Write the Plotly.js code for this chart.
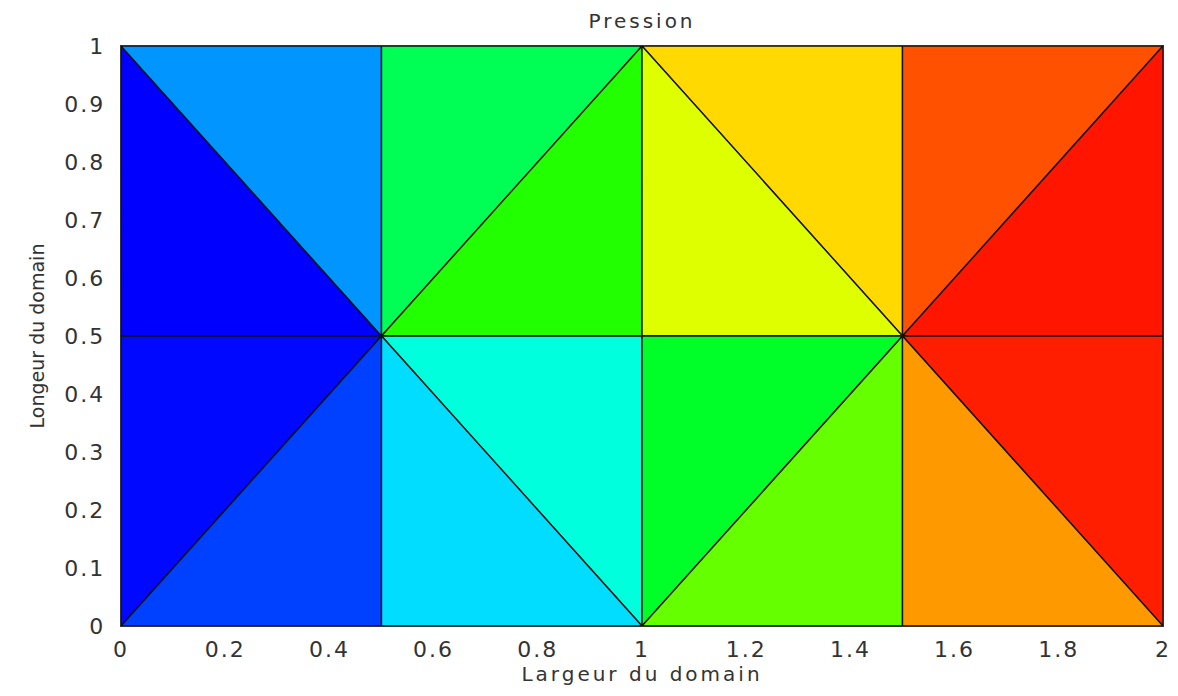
<!DOCTYPE html>
<html>
<head>
<meta charset="utf-8">
<script src="https://cdn.plot.ly/plotly-3.0.1.min.js"></script>
<style>
  html, body { margin: 0; padding: 0; background: #fff; }
  #chart { width: 1178px; height: 696px; }
  .xtick text, .ytick text { letter-spacing: 2px; }
  .gtitle, .xtitle { letter-spacing: 3px; }
</style>
</head>
<body>
<div id="chart"></div>
<script>
// Mesh nodes (x = largeur, y = longueur)
const nodeX = [0, 0.5, 1, 1.5, 2, 0, 0.5, 1, 1.5, 2, 0, 0.5, 1, 1.5, 2];
const nodeY = [0, 0, 0, 0, 0, 0.5, 0.5, 0.5, 0.5, 0.5, 1, 1, 1, 1, 1];
// Triangle connectivity (node indices)
const triA = [5, 10, 0, 0, 6, 6, 6, 6, 12, 12, 2, 2, 8, 8, 8, 8];
const triB = [10, 11, 5, 1, 11, 7, 7, 1, 13, 7, 7, 3, 13, 14, 9, 3];
const triC = [6, 6, 6, 6, 12, 12, 2, 2, 8, 8, 8, 8, 14, 9, 4, 4];
// Pression per element (normalised 0..1)
const pression = [0.00, 0.146, 0.008, 0.0625, 0.417, 0.533, 0.283, 0.217,
                  0.7875, 0.717, 0.46, 0.60, 0.921, 0.979, 0.969, 0.85];
// Axis ticks
const xTicks = [0, 0.2, 0.4, 0.6, 0.8, 1, 1.2, 1.4, 1.6, 1.8, 2];
const xTickText = ['0', '0.2', '0.4', '0.6', '0.8', '1', '1.2', '1.4', '1.6', '1.8', '2'];
const yTicks = [0, 0.1, 0.2, 0.3, 0.4, 0.5, 0.6, 0.7, 0.8, 0.9, 1];
const yTickText = ['0', '0.1', '0.2', '0.3', '0.4', '0.5', '0.6', '0.7', '0.8', '0.9', '1'];

function spectrum(p) {
  const hue = 240 * (1 - p);
  return 'hsl(' + hue.toFixed(1) + ',100%,50%)';
}

const traces = [];
for (let k = 0; k < pression.length; k++) {
  const ids = [triA[k], triB[k], triC[k], triA[k]];
  traces.push({
    type: 'scatter',
    mode: 'lines',
    x: ids.map(i => nodeX[i]),
    y: ids.map(i => nodeY[i]),
    fill: 'toself',
    fillcolor: spectrum(pression[k]),
    line: { color: '#111', width: 1.4 },
    hoverinfo: 'skip',
    showlegend: false
  });
}

const tickFont = { family: 'DejaVu Sans, sans-serif', size: 22, color: '#333' };

const layout = {
  width: 1178,
  height: 696,
  margin: { l: 121, r: 15, t: 46, b: 70 },
  paper_bgcolor: '#fff',
  plot_bgcolor: '#fff',
  title: {
    text: 'Pression',
    font: { family: 'DejaVu Sans, sans-serif', size: 20, color: '#333' },
    x: 0.5, xref: 'paper', xanchor: 'center',
    y: 0.97, yref: 'container', yanchor: 'middle'
  },
  xaxis: {
    range: [0, 2],
    tickvals: xTicks,
    ticktext: xTickText,
    tickfont: tickFont,
    ticks: '',
    ticklabelstandoff: 3,
    showgrid: false,
    zeroline: false,
    showline: true,
    mirror: true,
    linecolor: '#333',
    linewidth: 1.3,
    title: {
      text: 'Largeur du domain',
      font: { family: 'DejaVu Sans, sans-serif', size: 20, color: '#333' },
      standoff: 3
    }
  },
  yaxis: {
    range: [0, 1],
    tickvals: yTicks,
    ticktext: yTickText,
    tickfont: tickFont,
    ticks: '',
    ticklabelstandoff: 10,
    showgrid: false,
    zeroline: false,
    showline: true,
    mirror: true,
    linecolor: '#333',
    linewidth: 1.3,
    title: {
      text: 'Longeur du domain',
      font: { family: 'DejaVu Sans, sans-serif', size: 19, color: '#333' },
      standoff: 14
    }
  }
};

Plotly.newPlot('chart', traces, layout, { displayModeBar: false, staticPlot: true });
</script>
</body>
</html>
